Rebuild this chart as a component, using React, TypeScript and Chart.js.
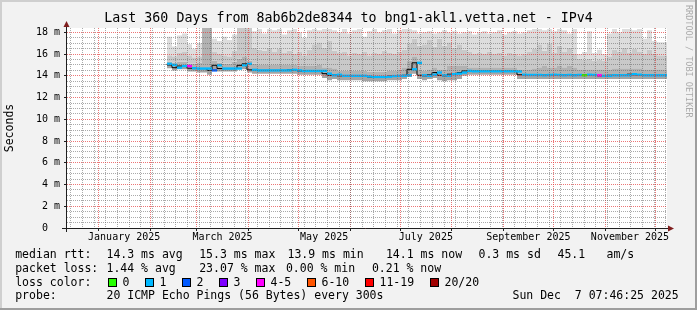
import React, { useEffect, useRef } from 'react';
import { Chart, registerables } from 'chart.js';

Chart.register(...registerables);

const MONO = "'DejaVu Sans Mono', monospace";

// ---------- texts ----------
const TITLE = 'Last 360 Days from 8ab6b2de8344 to bng1-akl1.vetta.net - IPv4';
const Y_AXIS_TITLE = 'Seconds';
const WATERMARK = 'RRDTOOL / TOBI OETIKER';

// ---------- axes ----------
const X_MIN_DAY = 0;
const X_MAX_DAY = 360;
const Y_MIN = 0;
const Y_MAX = 18.4;

const yTickValues = [0, 2, 4, 6, 8, 10, 12, 14, 16, 18];
const yTickLabels = ['0  ', '2 m', '4 m', '6 m', '8 m', '10 m', '12 m', '14 m', '16 m', '18 m'];
const yMinorStep = 0.5;

const monthStartDays = [18.8, 49.8, 77.8, 108.8, 138.8, 169.8, 199.8, 230.8, 261.8, 291.8, 322.8, 352.8];
const monthLabelDays = [34.3, 93.3, 154.3, 215.3, 276.8, 337.8];
const monthLabels = ['January 2025', 'March 2025', 'May 2025', 'July 2025', 'September 2025', 'November 2025'];
const weekGridFirstDay = 2.2;
const weekGridStepDays = 7;

// ---------- data (ms), one sample per 3 days starting at day 60 ----------
const SAMPLE_FIRST_DAY = 60;
const SAMPLE_STEP_DAYS = 3;

const medianRtt = [
  15.1, 15.0, 14.75, 14.9, 14.9, 14.7, 14.67, 14.67, 14.67, 14.5,
  14.97, 14.67, 14.67, 14.67, 14.67, 14.97, 15.1, 14.55, 14.5, 14.5,
  14.5, 14.5, 14.5, 14.5, 14.5, 14.55, 14.5, 14.45, 14.45, 14.45,
  14.45, 14.45, 14.2, 14.05, 14.1, 14.0, 14.0, 14.0, 14.0, 14.0,
  13.95, 13.9, 13.9, 13.9, 13.92, 13.98, 14.0, 14.0, 14.05, 14.6,
  15.2, 14.05, 14.0, 14.1, 14.3, 14.05, 14.0, 14.15, 14.2, 14.3,
  14.45, 14.42, 14.42, 14.42, 14.42, 14.42, 14.42, 14.42, 14.42, 14.42,
  14.4, 14.1, 14.08, 14.08, 14.08, 14.05, 14.08, 14.1, 14.08, 14.05,
  14.08, 14.05, 14.08, 14.05, 14.1, 14.08, 14.05, 14.0, 14.0, 14.05,
  14.05, 14.05, 14.05, 14.15, 14.1, 14.05, 14.05, 14.05, 14.05, 14.05,
];

// index into lossBinColors
const lossBin = [
  1, 1, 1, 1, 4, 1, 1, 1, 1, 2,
  1, 1, 1, 1, 1, 1, 1, 1, 1, 1,
  1, 1, 1, 1, 1, 1, 1, 1, 1, 1,
  1, 1, 1, 1, 1, 1, 1, 1, 1, 1,
  1, 1, 1, 1, 1, 1, 1, 1, 1, 1,
  1, 1, 1, 1, 1, 1, 1, 1, 1, 1,
  1, 1, 1, 1, 1, 1, 1, 1, 1, 1,
  1, 1, 1, 1, 1, 1, 1, 1, 1, 1,
  1, 1, 1, 0, 1, 1, 4, 1, 1, 1,
  1, 1, 1, 1, 1, 1, 1, 1, 1, 1,
];

const smokeTop = [
  17.9, 17.6, 16.7, 17.7, 17.9, 16.9, 16.5, 17.0, 18.4, 18.4,
  17.4, 17.2, 17.6, 17.3, 17.8, 18.4, 18.4, 18.4, 18.1, 18.3,
  17.9, 18.3, 18.2, 18.3, 17.8, 18.2, 18.3, 18.0, 17.5, 18.2,
  18.3, 18.2, 18.3, 18.3, 18.2, 18.0, 18.3, 17.9, 18.2, 18.3,
  17.6, 18.1, 18.3, 18.0, 18.2, 18.3, 17.9, 18.2, 18.3, 18.3,
  18.2, 17.9, 18.0, 18.1, 17.9, 18.0, 18.2, 18.0, 18.1, 17.9,
  18.0, 18.1, 17.8, 18.0, 18.1, 17.9, 18.0, 18.2, 17.8, 18.0,
  18.1, 17.9, 18.0, 18.2, 18.3, 18.3, 18.2, 18.3, 18.1, 18.3,
  18.2, 17.9, 18.3, 16.0, 16.2, 18.1, 16.1, 16.4, 16.0, 17.9,
  18.3, 18.0, 18.3, 18.3, 18.2, 18.3, 17.4, 18.2, 17.2, 17.1,
];

const smokeUpper = [
  16.0, 15.9, 15.8, 16.1, 16.2, 15.9, 15.7, 15.8, 18.4, 18.4,
  16.2, 16.0, 15.9, 15.8, 16.3, 18.4, 18.4, 18.4, 16.6, 16.4,
  16.3, 16.6, 16.2, 16.5, 16.1, 16.3, 16.0, 16.2, 15.9, 16.4,
  16.9, 17.1, 16.6, 17.2, 16.3, 16.1, 16.2, 15.9, 16.1, 16.0,
  16.2, 15.9, 16.1, 16.0, 16.3, 16.1, 16.0, 16.2, 16.4, 17.0,
  17.4, 16.8, 16.9, 17.3, 16.7, 17.4, 16.8, 17.1, 16.6, 16.9,
  16.4, 16.2, 16.0, 16.1, 16.0, 16.2, 16.0, 16.1, 15.9, 16.1,
  16.0, 15.9, 16.0, 16.2, 16.5, 16.9, 16.3, 17.0, 16.1, 16.8,
  16.2, 16.6, 16.0, 15.6, 15.5, 15.6, 15.4, 15.5, 15.4, 15.8,
  16.4, 16.2, 16.6, 16.1, 16.5, 16.2, 16.0, 16.4, 16.0, 15.9,
];

const smokeInner = [
  15.4, 15.3, 15.2, 15.3, 15.3, 15.1, 15.1, 15.2, 18.4, 18.4,
  15.4, 15.2, 15.1, 15.1, 15.3, 15.6, 15.8, 15.4, 15.1, 15.0,
  15.0, 15.0, 15.0, 15.0, 15.0, 15.0, 15.0, 14.9, 14.9, 14.9,
  14.9, 15.0, 14.8, 14.8, 14.7, 14.5, 14.5, 14.5, 14.5, 14.5,
  14.5, 14.4, 14.4, 14.4, 14.4, 14.5, 14.5, 14.6, 14.8, 15.4,
  15.8, 14.6, 14.5, 14.6, 14.8, 14.6, 14.6, 14.9, 14.9, 14.9,
  14.9, 14.8, 14.8, 14.8, 14.8, 14.8, 14.8, 14.8, 14.8, 14.8,
  14.8, 14.6, 14.6, 14.6, 14.7, 14.8, 14.9, 14.8, 14.8, 14.9,
  14.8, 14.9, 14.8, 14.6, 14.6, 14.6, 14.6, 14.6, 14.6, 14.6,
  14.7, 14.7, 14.7, 14.7, 14.7, 14.7, 14.6, 14.6, 14.6, 14.6,
];

const smokeLow = [
  14.7, 14.7, 14.5, 14.6, 14.6, 14.4, 14.4, 14.3, 14.3, 14.1,
  14.5, 14.4, 14.4, 14.4, 14.4, 14.6, 14.6, 14.3, 14.2, 14.2,
  14.2, 14.2, 14.2, 14.2, 14.2, 14.2, 14.2, 14.1, 14.1, 14.1,
  14.1, 14.1, 13.8, 13.6, 13.7, 13.6, 13.6, 13.6, 13.6, 13.6,
  13.5, 13.5, 13.5, 13.5, 13.5, 13.6, 13.6, 13.6, 13.7, 13.9,
  14.2, 13.7, 13.6, 13.7, 13.8, 13.6, 13.5, 13.6, 13.6, 13.7,
  14.0, 14.1, 14.1, 14.1, 14.1, 14.1, 14.1, 14.1, 14.1, 14.1,
  14.1, 13.7, 13.7, 13.7, 13.7, 13.7, 13.7, 13.7, 13.7, 13.7,
  13.7, 13.7, 13.7, 13.7, 13.7, 13.7, 13.7, 13.7, 13.7, 13.7,
  13.7, 13.7, 13.7, 13.7, 13.7, 13.7, 13.7, 13.7, 13.7, 13.7,
];

// ---------- legend ----------
const legendMedian = ['median rtt:', '14.3 ms avg', '15.3 ms max', '13.9 ms min', '14.1 ms now', '0.3 ms sd', '45.1', 'am/s'];
const legendLoss = ['packet loss:', '1.44 % avg', '23.07 % max', '0.00 % min', '0.21 % now'];
const legendLossColorTitle = 'loss color:';
const lossBinLabels = ['0', '1', '2', '3', '4-5', '6-10', '11-19', '20/20'];
const lossBinColors = ['#26ff00', '#00b8ff', '#0059ff', '#7e00ff', '#ff00ff', '#ff5500', '#ff0000', '#a10000'];
const legendProbe = ['probe:', '20 ICMP Echo Pings (56 Bytes) every 300s', 'Sun Dec  7 07:46:25 2025'];

// ---------- style ----------
const BACK = '#f2f2f2';
const SHADE_A = '#cfcfcf';
const SHADE_B = '#9e9e9e';
const AXIS = '#1f1f1f';
const ARROW = '#801f1f';
const MGRID = 'rgba(228,60,60,0.7)';
const GRID = 'rgba(100,100,100,0.55)';
const NONE = 'rgba(0,0,0,0)';
const MEDIAN_BAND = 0.11;
const MANY = 1000;

const sampleDays = medianRtt.map((_, i) => SAMPLE_FIRST_DAY + SAMPLE_STEP_DAYS * i);
const stepPoints = (arr: number[]) => {
  const pts = arr.map((v, i) => ({ x: sampleDays[i], y: v }));
  pts.push({ x: sampleDays[sampleDays.length - 1] + SAMPLE_STEP_DAYS, y: arr[arr.length - 1] });
  return pts;
};

// grid positions: majors + minors in one tick list per axis
const weekGridDays: number[] = [];
for (let d = weekGridFirstDay; d < X_MAX_DAY; d += weekGridStepDays) weekGridDays.push(d);
const xGridDays = [...monthStartDays, ...weekGridDays].sort((a, b) => a - b);
const isMonthStart = (v: number) => monthStartDays.some((m) => Math.abs(m - v) < 1e-6);

const yGridValues: number[] = [];
for (let v = Y_MIN; v < Y_MAX; v += yMinorStep) yGridValues.push(Math.round(v * 100) / 100);
const yMajorIndex = (v: number) => yTickValues.findIndex((t) => Math.abs(t - v) < 1e-6);

const rrdPlugin = {
  id: 'rrdDecor',
  beforeDraw(chart: any) {
    const { ctx, width, height, chartArea: a } = chart;
    ctx.save();
    ctx.fillStyle = BACK;
    ctx.fillRect(0, 0, width, height);
    ctx.fillStyle = SHADE_A;
    ctx.fillRect(0, 0, width, 2);
    ctx.fillRect(0, 0, 2, height);
    ctx.fillStyle = SHADE_B;
    ctx.fillRect(width - 2, 0, 2, height);
    ctx.fillRect(0, height - 2, width, 2);
    ctx.fillStyle = '#ffffff';
    ctx.fillRect(a.left, a.top, a.right - a.left, a.bottom - a.top);
    ctx.restore();
  },
  afterDraw(chart: any) {
    const { ctx, chartArea: a } = chart;
    ctx.save();
    // axes
    ctx.strokeStyle = AXIS;
    ctx.lineWidth = 1;
    ctx.setLineDash([]);
    ctx.beginPath();
    ctx.moveTo(a.left - 5, a.bottom + 0.5);
    ctx.lineTo(a.right + 2, a.bottom + 0.5);
    ctx.stroke();
    ctx.beginPath();
    ctx.moveTo(a.left - 0.5, a.bottom + 4);
    ctx.lineTo(a.left - 0.5, a.top - 1);
    ctx.stroke();
    ctx.fillStyle = ARROW;
    ctx.beginPath();
    ctx.moveTo(a.right + 1, a.bottom - 2.5);
    ctx.lineTo(a.right + 7, a.bottom + 0.5);
    ctx.lineTo(a.right + 1, a.bottom + 3.5);
    ctx.closePath();
    ctx.fill();
    ctx.beginPath();
    ctx.moveTo(a.left - 3.5, a.top - 1);
    ctx.lineTo(a.left - 0.5, a.top - 7);
    ctx.lineTo(a.left + 2.5, a.top - 1);
    ctx.closePath();
    ctx.fill();

    // watermark
    ctx.save();
    ctx.translate(688, 5);
    ctx.rotate(Math.PI / 2);
    ctx.font = `8.5px ${MONO}`;
    ctx.fillStyle = '#ababab';
    ctx.textAlign = 'left';
    ctx.textBaseline = 'middle';
    ctx.fillText(WATERMARK, 0, 0);
    ctx.restore();

    // legend
    ctx.font = `11.5px ${MONO}`;
    ctx.fillStyle = '#000';
    ctx.textAlign = 'left';
    ctx.textBaseline = 'alphabetic';
    const row1 = [15.2, 106.5, 199.2, 287.5, 385.9, 478.5, 557.5, 606.5];
    legendMedian.forEach((t, i) => ctx.fillText(t, row1[i], 258.3));
    const row2 = [15.2, 106.5, 199.2, 285.9, 371.9];
    legendLoss.forEach((t, i) => ctx.fillText(t, row2[i], 272));
    ctx.fillText(legendLossColorTitle, 15.2, 285.7);
    const boxX = [108, 145, 182, 219, 256, 307, 365, 430];
    lossBinLabels.forEach((t, i) => {
      ctx.fillStyle = lossBinColors[i];
      ctx.fillRect(boxX[i], 278, 9, 9);
      ctx.strokeStyle = '#000';
      ctx.strokeRect(boxX[i] + 0.5, 278.5, 8, 8);
      ctx.fillStyle = '#000';
      ctx.fillText(t, boxX[i] + 14.5, 285.7);
    });
    const row4 = [15.2, 106.5, 512.5];
    legendProbe.forEach((t, i) => ctx.fillText(t, row4[i], 299.3));
    ctx.restore();
  },
};

export default function App() {
  const ref = useRef<HTMLCanvasElement>(null);

  useEffect(() => {
    const canvas = ref.current;
    if (!canvas) return;
    const lineBase = {
      type: 'line',
      stepped: 'after',
      pointRadius: 0,
      borderWidth: 0,
      borderColor: 'transparent',
      xAxisID: 'x',
      yAxisID: 'y',
    };
    const chart = new Chart(canvas, {
      type: 'line',
      data: {
        datasets: [
          {
            type: 'bar',
            label: 'median',
            data: medianRtt.map((v, i) => ({ x: sampleDays[i] + SAMPLE_STEP_DAYS / 2, y: [v - MEDIAN_BAND, v + MEDIAN_BAND] })),
            backgroundColor: lossBin.map((b) => lossBinColors[b]),
            borderWidth: 0,
            borderSkipped: false,
            inflateAmount: 0,
            categoryPercentage: 1,
            barPercentage: 1,
            xAxisID: 'x',
            yAxisID: 'y',
            order: 0,
          },
          {
            ...lineBase,
            label: 'median line',
            data: stepPoints(medianRtt),
            borderWidth: 1,
            borderColor: '#000000',
            fill: 5,
            backgroundColor: '#a4a4a4',
            order: 1,
          },
          { ...lineBase, label: 'smoke top', data: stepPoints(smokeTop), fill: 3, backgroundColor: '#dddddd', order: 2 },
          { ...lineBase, label: 'smoke upper', data: stepPoints(smokeUpper), fill: 4, backgroundColor: '#c9c9c9', order: 3 },
          { ...lineBase, label: 'smoke inner', data: stepPoints(smokeInner), fill: 1, backgroundColor: '#b2b2b2', order: 4 },
          { ...lineBase, label: 'smoke low', data: stepPoints(smokeLow), fill: false, order: 5 },
        ] as any,
      },
      options: {
        responsive: false,
        animation: false,
        devicePixelRatio: 1,
        events: [],
        layout: { padding: { left: 0, right: 0, top: 0, bottom: 62 } },
        plugins: {
          legend: { display: false },
          tooltip: { enabled: false },
          title: {
            display: true,
            text: TITLE,
            color: '#000',
            font: { family: MONO, size: 13.3, weight: 'normal', lineHeight: '16px' },
            padding: { top: 11, bottom: 1 },
          },
        },
        scales: {
          x: {
            type: 'linear',
            position: 'bottom',
            weight: 5,
            min: X_MIN_DAY,
            max: X_MAX_DAY,
            offset: false,
            afterBuildTicks: (s: any) => {
              s.ticks = monthLabelDays.map((v) => ({ value: v }));
            },
            afterFit: (s: any) => {
              s.height = 20;
            },
            grid: { display: false, drawTicks: false },
            border: { display: false },
            ticks: {
              autoSkip: false,
              maxTicksLimit: MANY,
              maxRotation: 0,
              minRotation: 0,
              padding: 3.5,
              color: '#000',
              font: { family: MONO, size: 10 },
              callback: (_v: any, i: number) => monthLabels[i],
            },
          },
          xGrid: {
            type: 'linear',
            position: 'bottom',
            weight: 0,
            min: X_MIN_DAY,
            max: X_MAX_DAY,
            offset: false,
            afterBuildTicks: (s: any) => {
              s.ticks = xGridDays.map((v) => ({ value: v }));
            },
            afterFit: (s: any) => {
              s.height = 0;
            },
            ticks: { display: false, autoSkip: false, maxTicksLimit: MANY },
            grid: {
              lineWidth: 1,
              drawTicks: true,
              tickLength: 3,
              color: (c: any) => (c.tick && isMonthStart(c.tick.value) ? MGRID : GRID),
              tickColor: (c: any) => (c.tick && isMonthStart(c.tick.value) ? AXIS : NONE),
              z: 1,
            },
            border: { display: false, dash: [1, 1] },
          },
          y: {
            type: 'linear',
            position: 'left',
            min: Y_MIN,
            max: Y_MAX,
            afterBuildTicks: (s: any) => {
              s.ticks = yGridValues.map((v) => ({ value: v }));
            },
            afterFit: (s: any) => {
              s.width = 67;
            },
            grid: {
              lineWidth: 1,
              drawTicks: true,
              tickLength: 3,
              color: (c: any) => (c.tick && yMajorIndex(c.tick.value) >= 0 ? MGRID : GRID),
              tickColor: (c: any) => (c.tick && yMajorIndex(c.tick.value) >= 0 ? AXIS : NONE),
              z: 1,
            },
            border: { display: false, dash: [1, 1] },
            ticks: {
              autoSkip: false,
              maxTicksLimit: MANY,
              padding: 4,
              color: '#000',
              font: { family: MONO, size: 10 },
              callback: (v: any) => {
                const k = yMajorIndex(Number(v));
                return k >= 0 ? yTickLabels[k] : '';
              },
            },
            title: {
              display: true,
              text: Y_AXIS_TITLE,
              color: '#000',
              font: { family: MONO, size: 11.5 },
              padding: { top: 3, bottom: 0 },
            },
          },
          yRight: {
            type: 'linear',
            position: 'right',
            min: 0,
            max: 1,
            afterFit: (s: any) => {
              s.width = 30;
            },
            grid: { display: false, drawTicks: false },
            border: { display: false },
            ticks: { display: false },
          },
        } as any,
      },
      plugins: [rrdPlugin],
    } as any);
    return () => chart.destroy();
  }, []);

  return (
    <div style={{ position: 'fixed', left: 0, top: 0, width: 697, height: 310 }}>
      <canvas ref={ref} width={697} height={310} style={{ display: 'block', width: 697, height: 310 }} />
    </div>
  );
}
